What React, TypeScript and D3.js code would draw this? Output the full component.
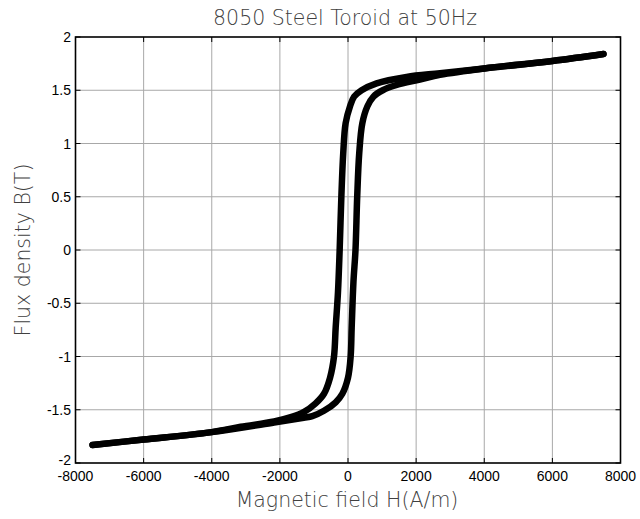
import React from "react";
import * as d3 from "d3";

const W = 640;
const H = 519;

const title = "8050 Steel Toroid at 50Hz";
const xLabel = "Magnetic field H(A/m)";
const yLabel = "Flux density B(T)";

const xTicks = [-8000, -6000, -4000, -2000, 0, 2000, 4000, 6000, 8000];
const yTicks = [-2, -1.5, -1, -0.5, 0, 0.5, 1, 1.5, 2];

// descending branch (from positive saturation to negative saturation)
const descH = [7500, 6000, 4000, 2700, 1720, 840, 400, 180, 60, -70, -140, -195, -245, -295, -362, -411, -528, -705, -950, -1290, -1680, -2170, -3150, -4000, -6000, -7500];
const descB = [1.84, 1.775, 1.705, 1.66, 1.625, 1.565, 1.5, 1.44, 1.35, 1.19, 0.91, 0.5, 0.0, -0.4, -0.73, -1.0, -1.2, -1.35, -1.44, -1.52, -1.57, -1.61, -1.66, -1.71, -1.78, -1.83];

// ascending branch (from negative saturation to positive saturation)
const ascH = [-7500, -6000, -4000, -2170, -1300, -1047, -705, -362, -166, 0, 78, 108, 160, 220, 270, 330, 420, 570, 745, 1020, 1430, 2110, 2700, 4000, 6000, 7500];
const ascB = [-1.83, -1.78, -1.71, -1.62, -1.575, -1.56, -1.51, -1.43, -1.35, -1.2, -1.0, -0.73, -0.3, 0.0, 0.5, 0.91, 1.19, 1.35, 1.44, 1.5, 1.55, 1.6, 1.645, 1.705, 1.775, 1.84];

const left = 75.5;
const right = 620.5;
const top = 37;
const bottom = 463;

export default function App() {
  const x = d3.scaleLinear().domain([-8000, 8000]).range([left, right]);
  const y = d3.scaleLinear().domain([-2, 2]).range([bottom, top]);

  const line = d3
    .line<[number, number]>()
    .x((d) => x(d[0]))
    .y((d) => y(d[1]))
    .curve(d3.curveCatmullRom.alpha(0.5));

  const desc: [number, number][] = descH.map((h, i) => [h, descB[i]]);
  const asc: [number, number][] = ascH.map((h, i) => [h, ascB[i]]);

  const tickFont = "'Liberation Sans', Arial, sans-serif";
  const labelFont = "'DejaVu Sans', sans-serif";

  return (
    <svg
      width={W}
      height={H}
      style={{ position: "fixed", left: 0, top: 0, background: "#fff" }}
    >
      <rect x={0} y={0} width={W} height={H} fill="#fff" />
      {/* grid */}
      {xTicks.slice(1, -1).map((t) => (
        <line key={"gx" + t} x1={x(t)} x2={x(t)} y1={top} y2={bottom} stroke="#a8a8a8" strokeWidth={1} />
      ))}
      {yTicks.slice(1, -1).map((t) => (
        <line key={"gy" + t} x1={left} x2={right} y1={y(t)} y2={y(t)} stroke="#a8a8a8" strokeWidth={1} />
      ))}
      {/* curve */}
      <path d={line(desc) || ""} fill="none" stroke="#000" strokeWidth={6.5} strokeLinejoin="round" strokeLinecap="round" />
      <path d={line(asc) || ""} fill="none" stroke="#000" strokeWidth={6.5} strokeLinejoin="round" strokeLinecap="round" />
      {/* frame */}
      <rect x={left} y={top} width={right - left} height={bottom - top} fill="none" stroke="#000" strokeWidth={1.6} />
      {/* ticks */}
      {xTicks.map((t) => (
        <g key={"tx" + t}>
          <line x1={x(t)} x2={x(t)} y1={bottom} y2={bottom - 5} stroke="#000" strokeWidth={1} />
          <line x1={x(t)} x2={x(t)} y1={top} y2={top + 5} stroke="#000" strokeWidth={1} />
          <text x={x(t)} y={481} textAnchor="middle" fontFamily={tickFont} fontSize={14} fill="#000">
            {String(t)}
          </text>
        </g>
      ))}
      {yTicks.map((t) => (
        <g key={"ty" + t}>
          <line x1={left} x2={left + 5} y1={y(t)} y2={y(t)} stroke="#000" strokeWidth={1} />
          <line x1={right} x2={right - 5} y1={y(t)} y2={y(t)} stroke="#000" strokeWidth={1} />
          <text x={71} y={y(t) - (t === -2 ? 3 : 0)} dy="0.36em" textAnchor="end" fontFamily={tickFont} fontSize={14} fill="#000">
            {String(t)}
          </text>
        </g>
      ))}
      {/* labels */}
      <text x={345} y={25} textAnchor="middle" fontFamily={labelFont} fontWeight={200} fontSize={20.5} fill="#404040">
        {title}
      </text>
      <text x={347} y={507} textAnchor="middle" fontFamily={labelFont} fontWeight={200} fontSize={20.5} fill="#404040">
        {xLabel}
      </text>
      <text
        transform={`translate(30,250) rotate(-90)`}
        textAnchor="middle"
        fontFamily={labelFont}
        fontWeight={200}
        fontSize={20.5}
        fill="#404040"
      >
        {yLabel}
      </text>
    </svg>
  );
}
